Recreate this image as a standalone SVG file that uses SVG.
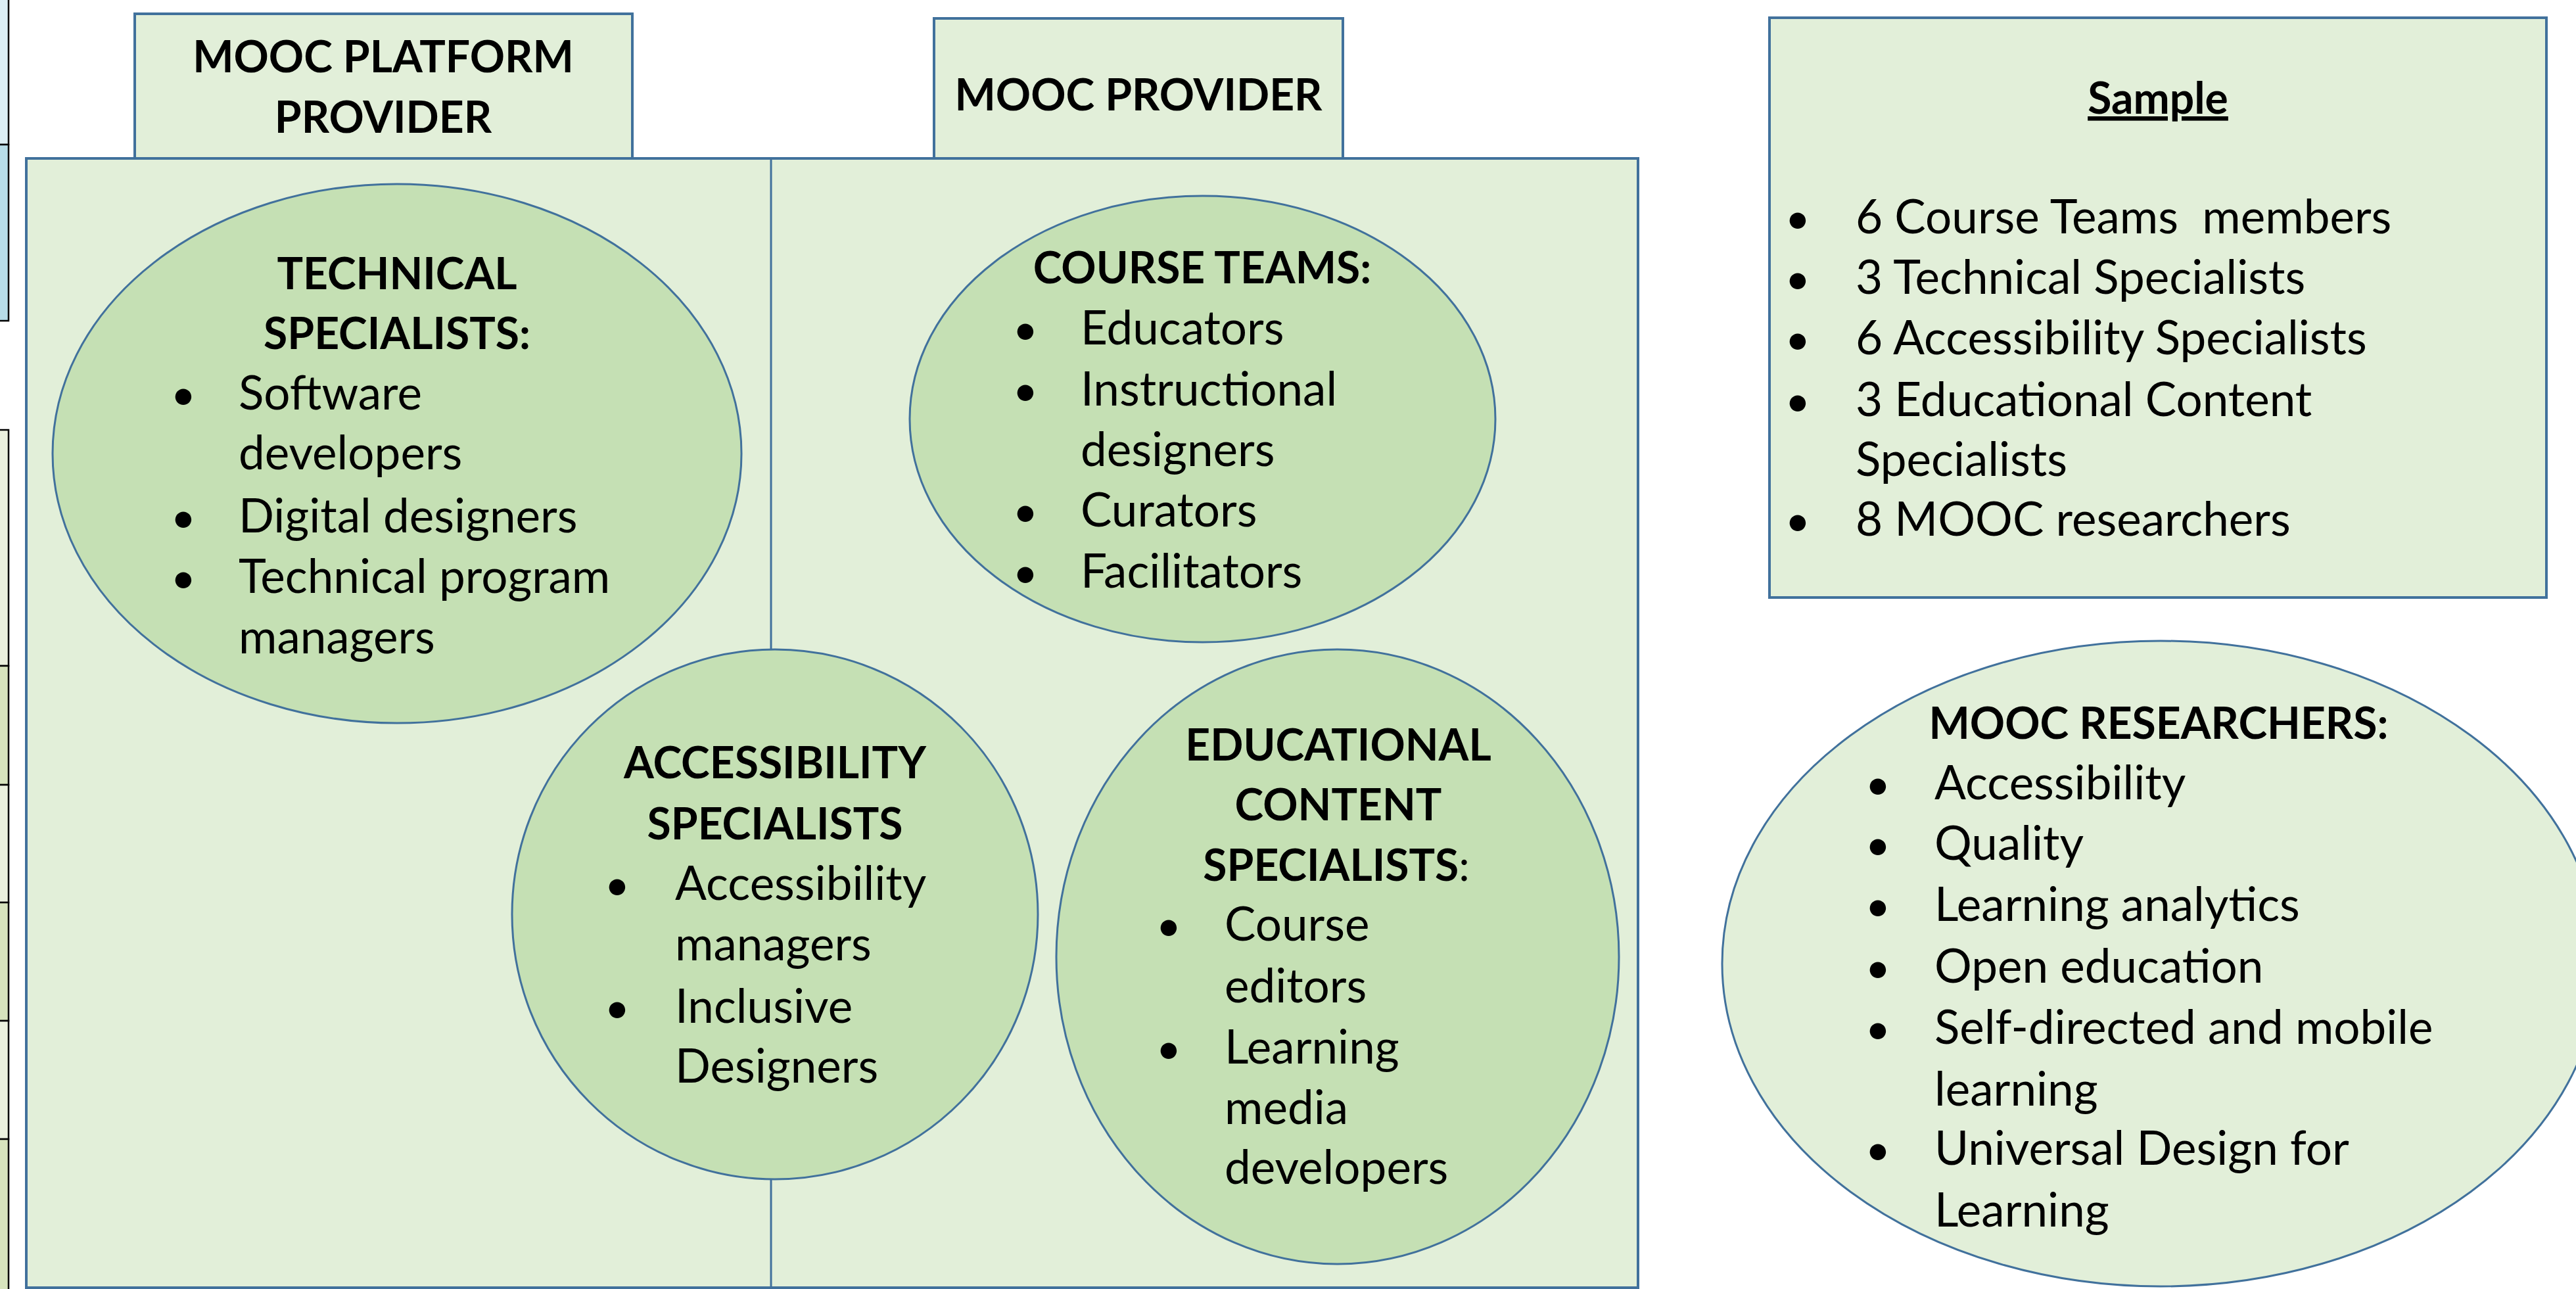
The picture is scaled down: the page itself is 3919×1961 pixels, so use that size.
<svg xmlns="http://www.w3.org/2000/svg" width="3919" height="1961" viewBox="0 0 3919 1961">
  <style>
    .panel { fill: #e2efd9; stroke: #41719c; stroke-width: 4; }
    .blob { fill: #c5e0b4; stroke: #41719c; stroke-width: 3; }
    .blob-light { fill: #e2efd9; stroke: #41719c; stroke-width: 3; }
    .divider { stroke: #41719c; stroke-width: 3; fill: none; }
    text { font-family: Lato, "Liberation Sans", sans-serif; font-size: 71px; fill: #000; }
    .h { font-weight: bold; text-anchor: middle; font-size: 66px; }
    .b { text-anchor: middle; font-size: 66px; }
    .cell { stroke: #000; stroke-width: 2.5; }
  </style>

  <rect width="3919" height="1961" fill="#ffffff"/>

  <!-- table edge at the far left -->
  <g id="side-table">
    <rect class="cell" x="-5" y="-5" width="18" height="225" fill="#dbeef4"/>
    <rect class="cell" x="-5" y="220" width="18" height="268" fill="#b7dde8"/>
    <rect class="cell" x="-5" y="654" width="18" height="359" fill="#ebf1de"/>
    <rect class="cell" x="-5" y="1013" width="18" height="181" fill="#d7e4bd"/>
    <rect class="cell" x="-5" y="1194" width="18" height="179" fill="#ebf1de"/>
    <rect class="cell" x="-5" y="1373" width="18" height="180" fill="#d7e4bd"/>
    <rect class="cell" x="-5" y="1553" width="18" height="180" fill="#ebf1de"/>
    <rect class="cell" x="-5" y="1733" width="18" height="240" fill="#d7e4bd"/>
  </g>

  <!-- provider tabs -->
  <g id="platform-provider">
    <rect class="panel" x="205" y="21" width="757" height="220"/>
    <text class="h" x="583" y="110">MOOC PLATFORM</text>
    <text class="h" x="583" y="202">PROVIDER</text>
  </g>
  <g id="mooc-provider">
    <rect class="panel" x="1421" y="28" width="622" height="213"/>
    <text class="h" x="1732" y="168">MOOC PROVIDER</text>
  </g>

  <!-- shared frame holding both providers -->
  <g id="frame">
    <rect class="panel" x="40" y="241" width="2452" height="1718"/>
  </g>

  <g id="connectors">
    <line class="divider" x1="1173" y1="241" x2="1173" y2="1961"/>
  </g>

  <g id="technical-specialists">
    <ellipse class="blob" cx="604" cy="690" rx="524" ry="410"/>
    <text class="h" x="604" y="440">TECHNICAL</text>
    <text class="h" x="604" y="531">SPECIALISTS:</text>
    <text class="b" x="279" y="623">•</text>
    <text x="363" y="623">Software</text>
    <text x="363" y="714">developers</text>
    <text class="b" x="279" y="810">•</text>
    <text x="363" y="810">Digital designers</text>
    <text class="b" x="279" y="902">•</text>
    <text x="363" y="902">Technical program</text>
    <text x="363" y="994">managers</text>
  </g>

  <g id="course-teams">
    <ellipse class="blob" cx="1829.5" cy="637.5" rx="445.5" ry="339.5"/>
    <text class="h" x="1829" y="431">COURSE TEAMS:</text>
    <text class="b" x="1560" y="524">•</text>
    <text x="1644" y="524">Educators</text>
    <text class="b" x="1560" y="617">•</text>
    <text x="1644" y="617">Instructional</text>
    <text x="1644" y="709">designers</text>
    <text class="b" x="1560" y="801">•</text>
    <text x="1644" y="801">Curators</text>
    <text class="b" x="1560" y="894">•</text>
    <text x="1644" y="894">Facilitators</text>
  </g>

  <g id="accessibility-specialists">
    <ellipse class="blob" cx="1179" cy="1391" rx="400" ry="403"/>
    <text class="h" x="1179" y="1184">ACCESSIBILITY</text>
    <text class="h" x="1179" y="1277">SPECIALISTS</text>
    <text class="b" x="939" y="1369">•</text>
    <text x="1027" y="1369">Accessibility</text>
    <text x="1027" y="1461">managers</text>
    <text class="b" x="939" y="1556">•</text>
    <text x="1027" y="1556">Inclusive</text>
    <text x="1027" y="1647">Designers</text>
  </g>

  <g id="educational-content-specialists">
    <ellipse class="blob" cx="2035" cy="1455.5" rx="428" ry="467.5"/>
    <text class="h" x="2036" y="1157">EDUCATIONAL</text>
    <text class="h" x="2036" y="1248">CONTENT</text>
    <text class="h" x="2033" y="1340">SPECIALISTS<tspan font-weight="normal">:</tspan></text>
    <text class="b" x="1778" y="1431">•</text>
    <text x="1863" y="1431">Course</text>
    <text x="1863" y="1525">editors</text>
    <text class="b" x="1778" y="1618">•</text>
    <text x="1863" y="1618">Learning</text>
    <text x="1863" y="1710">media</text>
    <text x="1863" y="1801">developers</text>
  </g>

  <g id="sample">
    <rect class="panel" x="2692" y="27" width="1182" height="882"/>
    <text class="h" x="3283" y="173" text-decoration="underline">Sample</text>
    <text class="b" x="2735" y="355">•</text>
    <text x="2823" y="355" xml:space="preserve">6 Course Teams  members</text>
    <text class="b" x="2735" y="447">•</text>
    <text x="2823" y="447">3 Technical Specialists</text>
    <text class="b" x="2735" y="539">•</text>
    <text x="2823" y="539">6 Accessibility Specialists</text>
    <text class="b" x="2735" y="633">•</text>
    <text x="2823" y="633">3 Educational Content</text>
    <text x="2823" y="724">Specialists</text>
    <text class="b" x="2735" y="815">•</text>
    <text x="2823" y="815">8 MOOC researchers</text>
  </g>

  <g id="mooc-researchers">
    <ellipse class="blob-light" cx="3287" cy="1466" rx="667" ry="491"/>
    <text class="h" x="3284" y="1124">MOOC RESEARCHERS:</text>
    <text class="b" x="2857" y="1216">•</text>
    <text x="2943" y="1216">Accessibility</text>
    <text class="b" x="2857" y="1308">•</text>
    <text x="2943" y="1308">Quality</text>
    <text class="b" x="2857" y="1401">•</text>
    <text x="2943" y="1401">Learning analytics</text>
    <text class="b" x="2857" y="1495">•</text>
    <text x="2943" y="1495">Open education</text>
    <text class="b" x="2857" y="1588">•</text>
    <text x="2943" y="1588">Self-directed and mobile</text>
    <text x="2943" y="1682">learning</text>
    <text class="b" x="2857" y="1772">•</text>
    <text x="2943" y="1772">Universal Design for</text>
    <text x="2943" y="1866">Learning</text>
  </g>
</svg>
